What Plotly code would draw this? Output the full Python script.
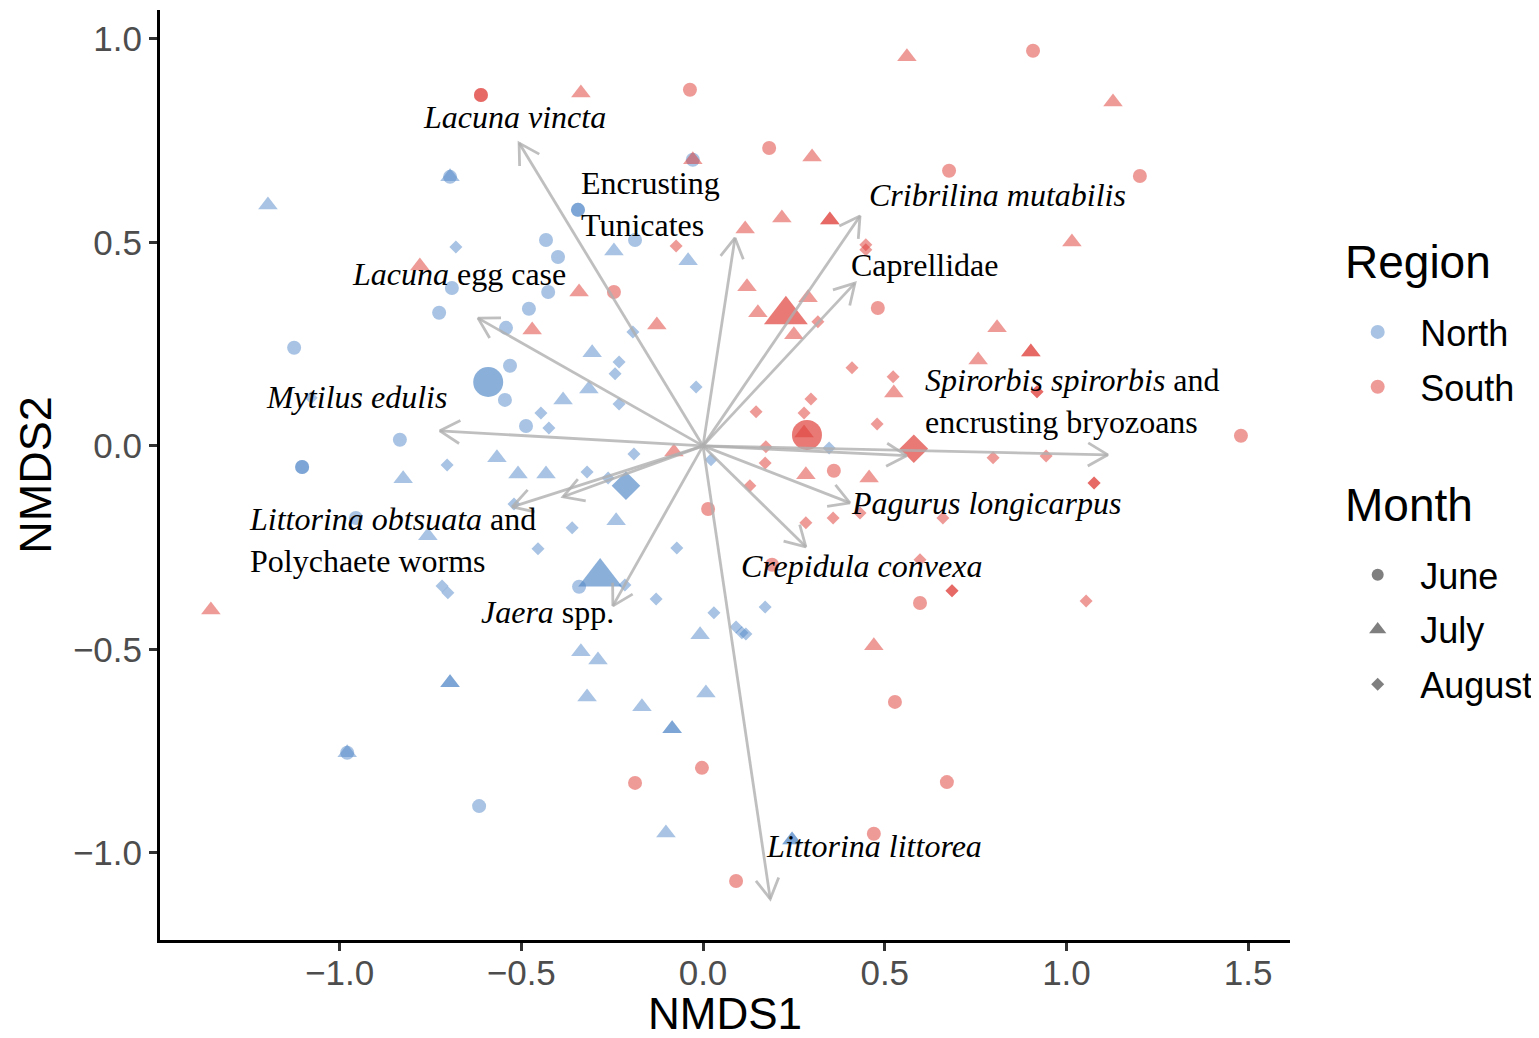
import math
import plotly.graph_objects as go

# ---------------- data ----------------
north_june_x = [-0.344, -0.344, -0.432, -0.399, -0.187, -0.691, -0.426, -0.726, -0.479, -0.542,
                -1.125, -0.531, -0.545, -0.487, -0.834, -1.103, -1.103, -0.955, -0.341, -0.616,
                -0.028, -0.696, -0.979]
north_june_y = [0.580, 0.580, 0.506, 0.464, 0.506, 0.388, 0.378, 0.327, 0.337, 0.290,
                0.241, 0.197, 0.113, 0.049, 0.015, -0.052, -0.052, -0.177, -0.346, -0.885,
                0.703, 0.661, -0.754]

north_july_x = [-1.197, -0.696, -0.245, -0.041, -0.305, -0.314, -0.385, -0.567, -0.509, -0.432,
                -0.825, -0.239, -0.757, -0.008, -0.336, -0.289, -0.696, -0.696, -0.319, 0.008,
                -0.168, -0.085, -0.085, -0.979, -0.102, 0.245, 0.245]
north_july_y = [0.592, 0.661, 0.479, 0.455, 0.229, 0.140, 0.113, -0.029, -0.069, -0.069,
                -0.081, -0.184, -0.221, -0.464, -0.506, -0.526, -0.582, -0.582, -0.617, -0.607,
                -0.641, -0.695, -0.695, -0.754, -0.951, -0.968, -0.968]

north_aug_x = [-0.680, -0.193, -0.231, -0.242, -0.231, -0.019, -0.446, -0.424, -1.078, -0.704,
               -0.319, -0.190, -0.261, 0.022, 0.347, -0.520, -0.360, -0.454, -0.072, -0.718,
               -0.702, -0.215, -0.129, 0.030, 0.171, 0.091, 0.107, 0.118]
north_aug_y = [0.489, 0.280, 0.206, 0.177, 0.103, 0.145, 0.081, 0.044, 0.118, -0.047,
               -0.064, -0.020, -0.079, -0.034, -0.005, -0.143, -0.201, -0.253, -0.251, -0.344,
               -0.361, -0.342, -0.376, -0.410, -0.396, -0.445, -0.459, -0.462]

south_june_x = [-0.611, -0.611, -0.036, 0.908, 0.182, 0.677, 1.202, -0.245, 0.481, 0.360,
                1.480, 0.014, 0.190, 0.597, 0.528, -0.187, -0.003, 0.671, 0.470, 0.091]
south_june_y = [0.862, 0.862, 0.875, 0.971, 0.732, 0.676, 0.663, 0.378, 0.339, -0.061,
                0.025, -0.155, -0.292, -0.386, -0.629, -0.828, -0.791, -0.826, -0.953, -1.069]

south_july_x = [-0.336, 0.561, 1.128, -0.028, 0.300, 0.116, 0.217, 0.349, 0.349, 1.015,
                -0.779, -0.341, 0.121, 0.151, 0.289, 0.250, -0.470, -0.127, 0.809, 0.902,
                0.902, 0.757, 0.525, 0.278, -0.080, 0.283, 0.457, 0.470, -1.354]
south_july_y = [0.867, 0.956, 0.845, 0.703, 0.710, 0.533, 0.560, 0.555, 0.555, 0.501,
                0.442, 0.378, 0.391, 0.327, 0.364, 0.273, 0.285, 0.297, 0.290, 0.231,
                0.231, 0.211, 0.130, 0.032, -0.015, -0.071, -0.079, -0.491, -0.403]

south_aug_x = [-0.074, 0.448, 0.448, 0.316, 0.410, 0.523, 0.919, 0.919, 0.297, 0.146,
               0.278, 0.479, 0.173, 0.171, 0.798, 0.944, 0.129, 1.076, 1.076, 0.358,
               0.283, 0.432, 0.660, 0.597, 0.685, 0.685, 1.054]
south_aug_y = [0.491, 0.494, 0.482, 0.305, 0.192, 0.170, 0.133, 0.133, 0.115, 0.084,
               0.081, 0.054, -0.002, -0.042, -0.029, -0.025, -0.098, -0.091, -0.091, -0.177,
               -0.189, -0.165, -0.177, -0.280, -0.356, -0.356, -0.381]

# group centroids: June, July, August
centroid_north_x = [-0.591, -0.283, -0.212]
centroid_north_y = [0.157, -0.322, -0.098]
centroid_south_x = [0.286, 0.228, 0.580]
centroid_south_y = [0.027, 0.322, -0.007]

# species vectors (arrow tips)
vector_names = ["Lacuna vincta", "Encrusting Tunicates", "Cribrilina mutabilis", "Caprellidae",
                "Lacuna egg case", "Mytilus edulis", "Spirorbis spirorbis", "encrusting bryozoans",
                "Pagurus longicarpus", "Crepidula convexa", "Littorina littorea", "Jaera spp.",
                "Littorina obtusata", "Polychaete worms"]
vector_x = [-0.506, 0.088, 0.432, 0.418, -0.619, -0.724, 1.114, 0.560, 0.404, 0.283, 0.185,
            -0.248, -0.525, -0.385]
vector_y = [0.744, 0.511, 0.565, 0.400, 0.314, 0.037, -0.022, -0.024, -0.140, -0.248, -1.113,
            -0.393, -0.150, -0.125]

label_texts = ["<i>Lacuna vincta</i>", "Encrusting<br>Tunicates", "<i>Cribrilina mutabilis</i>",
               "Caprellidae", "<i>Lacuna</i> egg case", "<i>Mytilus edulis</i>",
               "<i>Spirorbis spirorbis</i> and<br>encrusting bryozoans", "<i>Pagurus longicarpus</i>",
               "<i>Littorina obtsuata</i> and<br>Polychaete worms", "<i>Crepidula convexa</i>",
               "<i>Jaera</i> spp.", "<i>Littorina littorea</i>"]

region_names = ["North", "South"]
month_names = ["June", "July", "August"]

# ---------------- layout constants ----------------
OFF = 8                      # page body margin of the browser
W, H = 1531, 1030
ML, MR, MT, MB = 152, 249, 2, 98
PW, PH = W - ML - MR, H - MT - MB
XR = [-1.494, 1.615]
YR = [-1.214, 1.071]
label_pos = [(-0.775, 0.808), (-0.340, 0.595), (0.452, 0.617), (0.403, 0.445), (-0.970, 0.423),
             (-1.207, 0.120), (0.606, 0.111), (0.403, -0.140), (-1.256, -0.230), (0.100, -0.295),
             (-0.615, -0.408), (0.169, -0.983)]

BLUE = "rgb(81,135,199)"
RED = "rgb(221,55,49)"
ALPHA = 0.5
SANS = "Liberation Sans, Arial, sans-serif"

fig = go.Figure()

def add_pts(xs, ys, color, symbol, size, opacity=ALPHA):
    fig.add_trace(go.Scatter(x=xs, y=ys, mode="markers", showlegend=False, hoverinfo="skip",
                             marker=dict(color=color, symbol=symbol, size=size, opacity=opacity,
                                         line=dict(width=0))))

symbols = ["circle", "triangle-up", "diamond"]
small_sizes = [14, 17, 10]
big_sizes = [30, 38, 22]

for xs, ys, col, i in [(north_june_x, north_june_y, BLUE, 0), (north_july_x, north_july_y, BLUE, 1),
                       (north_aug_x, north_aug_y, BLUE, 2), (south_june_x, south_june_y, RED, 0),
                       (south_july_x, south_july_y, RED, 1), (south_aug_x, south_aug_y, RED, 2)]:
    add_pts(xs, ys, col, symbols[i], small_sizes[i])

for i in range(3):
    add_pts([centroid_north_x[i]], [centroid_north_y[i]], BLUE, symbols[i], big_sizes[i], 0.67)
    add_pts([centroid_south_x[i]], [centroid_south_y[i]], RED, symbols[i], big_sizes[i], 0.67)

# arrows with open chevron heads, computed in pixel space
kx = PW / (XR[1] - XR[0])
ky = PH / (YR[1] - YR[0])
HEAD = 23.0
ANG = math.radians(30)
ax, ay = [], []
for vx, vy in zip(vector_x, vector_y):
    px, py = vx * kx, vy * ky
    n = math.hypot(px, py)
    ux, uy = px / n, py / n
    pts = []
    for s in (1, -1):
        c, sn = math.cos(s * ANG), math.sin(s * ANG)
        rx, ry = ux * c - uy * sn, ux * sn + uy * c
        pts.append((vx - HEAD * rx / kx, vy - HEAD * ry / ky))
    ax += [0, vx, None, pts[0][0], vx, pts[1][0], None]
    ay += [0, vy, None, pts[0][1], vy, pts[1][1], None]

fig.add_trace(go.Scatter(x=ax, y=ay, mode="lines", showlegend=False, hoverinfo="skip",
                         line=dict(color="rgba(175,175,175,0.8)", width=2.8)))

# legend entries (each its own group so tracegroupgap spaces them)
for nm, col in zip(region_names, [BLUE, RED]):
    fig.add_trace(go.Scatter(x=[None], y=[None], mode="markers", name=nm, legend="legend",
                             legendgroup=nm,
                             marker=dict(color=col, opacity=ALPHA, symbol="circle", size=14)))
for nm, sym, sz in zip(month_names, symbols, [12, 15, 10]):
    fig.add_trace(go.Scatter(x=[None], y=[None], mode="markers", name=nm, legend="legend2",
                             legendgroup=nm,
                             marker=dict(color="black", opacity=ALPHA, symbol=sym, size=sz)))

for txt, (lx, ly) in zip(label_texts, label_pos):
    fig.add_annotation(x=lx, y=ly, text=txt, showarrow=False, xanchor="left", yanchor="middle",
                       align="left", font=dict(family="Liberation Serif, Times New Roman, serif",
                                               size=32, color="black"))

# legend titles
for title, ypx in [("Region", 262), ("Month", 505)]:
    fig.add_annotation(x=(1343 - OFF - ML) / PW, y=(H - MB + OFF - ypx) / PH,
                       xref="paper", yref="paper", text=title, showarrow=False,
                       xanchor="left", yanchor="middle",
                       font=dict(family=SANS, size=46, color="black"))

axis_common = dict(showline=True, linecolor="black", linewidth=3, ticks="outside", ticklen=8,
                   tickwidth=3, tickcolor="#333333", showgrid=False, zeroline=False,
                   automargin=False,
                   tickfont=dict(family=SANS, size=35, color="#4D4D4D"), tickformat=".1f")

fig.update_layout(
    width=W, height=H, margin=dict(l=ML, r=MR, t=MT, b=MB, autoexpand=False),
    paper_bgcolor="white", plot_bgcolor="white",
    font=dict(family=SANS, color="black"),
    xaxis=dict(range=XR, tickvals=[-1.0, -0.5, 0.0, 0.5, 1.0, 1.5], ticklabelstandoff=-8,
               title=dict(text="NMDS1", font=dict(size=44, color="black"), standoff=19),
               **axis_common),
    yaxis=dict(range=YR, tickvals=[-1.0, -0.5, 0.0, 0.5, 1.0],
               title=dict(text="NMDS2", font=dict(size=45, color="black"), standoff=8),
               **axis_common),
    legend=dict(font=dict(size=36), x=1.04, y=0.686, xanchor="left", yanchor="top",
                itemsizing="trace", itemwidth=75, tracegroupgap=5, bgcolor="rgba(0,0,0,0)"),
    legend2=dict(font=dict(size=36), x=1.04, y=0.425, xanchor="left", yanchor="top",
                 itemsizing="trace", itemwidth=75, tracegroupgap=5, bgcolor="rgba(0,0,0,0)"),
)

fig.write_html("out.html")
